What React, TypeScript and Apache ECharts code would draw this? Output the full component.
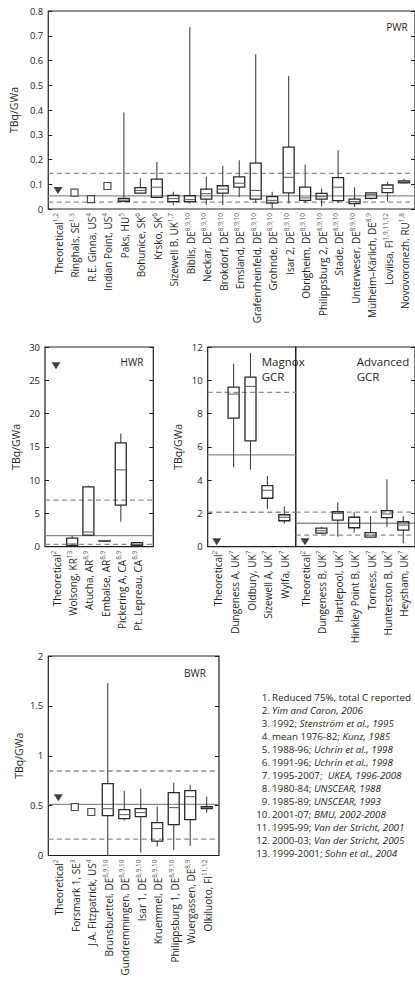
import React, { useEffect, useRef } from 'react';
import * as echarts from 'echarts';

const FONT = '"Open Sans", "Noto Sans", sans-serif';
const INK = '#231f20';
const REF = '#8d8d8d';

// ---------------- PWR ----------------
const pwrSites = ['Theoretical', 'Ringhals, SE', 'R.E. Ginna, US', 'Indian Point, US', 'Paks, HU', 'Bohunice, SK', 'Krsko, SK', 'Sizewell B, UK', 'Biblis, DE', 'Neckar, DE', 'Brokdorf, DE', 'Emsland, DE', 'Grafenrheinfeld, DE', 'Grohnde, DE', 'Isar 2, DE', 'Obrigheim, DE', 'Philippsburg 2, DE', 'Stade, DE', 'Unterweser, DE', 'Mülheim–Kärlich, DE', 'Loviisa, FI', 'Novovoronezh, RU'];
const pwrRefs = ['1,2', '1,3', '4', '4', '5', '6', '6', '1,7', '8,9,10', '8,9,10', '8,9,10', '8,9,10', '8,9,10', '8,9,10', '8,9,10', '8,9,10', '8,9,10', '8,9,10', '8,9,10', '8,9', '1,9,11,12', '1,8'];
const pwrTheoretical = 0.075;
const pwrSingles = [null, 0.066, 0.04, 0.093];
// [min, q1, median, q3, max]
const pwrBoxes: (number[] | null)[] = [
  null, null, null, null,
  [0.028, 0.031, 0.036, 0.043, 0.39],
  [0.062, 0.064, 0.075, 0.086, 0.124],
  [0.043, 0.047, 0.088, 0.121, 0.19],
  [0.015, 0.03, 0.042, 0.055, 0.07],
  [0.022, 0.03, 0.038, 0.054, 0.735],
  [0.017, 0.04, 0.062, 0.08, 0.13],
  [0.015, 0.064, 0.08, 0.094, 0.175],
  [0.048, 0.088, 0.104, 0.13, 0.197],
  [0.025, 0.04, 0.075, 0.185, 0.625],
  [0.002, 0.024, 0.035, 0.05, 0.07],
  [0.022, 0.065, 0.128, 0.25, 0.537],
  [0.023, 0.035, 0.045, 0.088, 0.18],
  [0.01, 0.04, 0.05, 0.063, 0.083],
  [0.025, 0.034, 0.088, 0.127, 0.237],
  [0.008, 0.022, 0.03, 0.04, 0.088],
  [0.038, 0.043, 0.058, 0.065, 0.066],
  [0.03, 0.066, 0.083, 0.097, 0.11],
  [0.104, 0.106, 0.11, 0.114, 0.122],
];
const pwrRefMean = [0.053];
const pwrRefBounds = [0.028, 0.144];

// ---------------- HWR ----------------
const hwrSites = ['Theoretical', 'Wolsong, KR', 'Atucha, AR', 'Embalse, AR', 'Pickering A, CA', 'Pt. Lepreau, CA'];
const hwrRefs = ['2', '13', '8,9', '8,9', '8,9', '8,9'];
const hwrTheoretical = 27.2;
const hwrBoxes: (number[] | null)[] = [
  null,
  [0.1, 0.15, 0.4, 1.3, 1.6],
  [1.7, 1.75, 2.2, 9.0, 9.2],
  [0.88, 0.88, 0.9, 0.92, 0.92],
  [3.75, 6.25, 11.55, 15.6, 17.0],
  [0.1, 0.15, 0.35, 0.6, 0.65],
];
const hwrRefMean = [1.65];
const hwrRefBounds = [0.35, 7.0];

// ---------------- Magnox GCR ----------------
const magSites = ['Theoretical', 'Dungeness A, UK', 'Oldbury, UK', 'Sizewell A, UK', 'Wylfa, UK'];
const magRefs = ['2', '7', '7', '7', '7'];
const magTheoretical = 0.3;
const magBoxes: (number[] | null)[] = [
  null,
  [4.78, 7.73, 9.17, 9.59, 11.0],
  [4.63, 6.36, 9.63, 10.19, 11.64],
  [2.27, 2.91, 3.39, 3.67, 4.25],
  [1.4, 1.56, 1.77, 1.92, 2.42],
];
const magRefMean = [5.52];
const magRefBounds = [2.07, 9.27];

// ---------------- Advanced GCR ----------------
const agrSites = ['Theoretical', 'Dungeness B, UK', 'Hartlepool, UK', 'Hinkley Point B, UK', 'Torness, UK', 'Hunterston B, UK', 'Heysham, UK'];
const agrRefs = ['2', '7', '7', '7', '7', '7', '7'];
const agrTheoretical = 0.3;
const agrBoxes: (number[] | null)[] = [
  null,
  [0.76, 0.82, 0.96, 1.12, 1.2],
  [0.6, 1.6, 2.0, 2.1, 2.67],
  [0.84, 1.14, 1.41, 1.77, 2.07],
  [0.55, 0.57, 0.7, 0.84, 1.85],
  [1.2, 1.75, 1.97, 2.17, 4.05],
  [0.2, 1.0, 1.3, 1.5, 1.85],
];
const agrRefMean = [1.41];
const agrRefBounds = [0.7, 2.08];

// ---------------- BWR ----------------
const bwrSites = ['Theoretical', 'Forsmark 1, SE', 'J.A. Fitzpatrick, US', 'Brunsbuettel, DE', 'Gundremmingen, DE', 'Isar 1, DE', 'Kruemmel, DE', 'Philippsburg 1, DE', 'Wuergassen, DE', 'Olkiluoto, FI'];
const bwrRefs = ['2', '3', '4', '8,9,10', '8,9,10', '8,9,10', '8,9,10', '8,9,10', '8,9', '11,12'];
const bwrTheoretical = 0.58;
const bwrSingles = [null, 0.486, 0.436];
const bwrBoxes: (number[] | null)[] = [
  null, null, null,
  [0.0, 0.4, 0.47, 0.72, 1.73],
  [0.35, 0.37, 0.41, 0.46, 0.65],
  [0.03, 0.39, 0.43, 0.47, 0.67],
  [0.09, 0.145, 0.27, 0.33, 0.49],
  [0.055, 0.31, 0.48, 0.63, 0.73],
  [0.095, 0.36, 0.59, 0.65, 0.71],
  [0.43, 0.47, 0.48, 0.49, 0.59],
];
const bwrRefMean = [0.513];
const bwrRefBounds = [0.165, 0.847];

// ---------------- Footnotes ----------------
const footNums = ['1.', '2.', '3.', '4.', '5.', '6.', '7.', '8.', '9.', '10.', '11.', '12.', '13.'];
const footPlain = ['Reduced 75%, total C reported', '', '1992; ', 'mean 1976-82; ', '1988-96; ', '1991-96; ', '1995-2007;  ', '1980-84; ', '1985-89; ', '2001-07; ', '1995-99; ', '2000-03; ', '1999-2001; '];
const footCite = ['', 'Yim and Caron, 2006', 'Stenström et al., 1995', 'Kunz, 1985', 'Uchrin et al., 1998', 'Uchrin et al., 1998', 'UKEA, 1996-2008', 'UNSCEAR, 1988', 'UNSCEAR, 1993', 'BMU, 2002-2008', 'Van der Stricht, 2001', 'Van der Stricht, 2005', 'Sohn et al., 2004'];

function buildOption() {
  const grids: any[] = [];
  const xAxes: any[] = [];
  const yAxes: any[] = [];
  const series: any[] = [];

  const tickStyle = { color: INK, width: 1 };

  function refSeries(xi: number, yi: number, vals: number[], dashed: boolean) {
    return {
      type: 'custom',
      xAxisIndex: xi,
      yAxisIndex: yi,
      silent: true,
      z: 1,
      data: vals.map((v) => [0, v]),
      encode: { x: 0, y: 1 },
      renderItem: (params: any, api: any) => {
        const cs = params.coordSys;
        const yy = api.coord([0, api.value(1)])[1];
        return {
          type: 'line',
          shape: { x1: cs.x, y1: yy, x2: cs.x + cs.width, y2: yy },
          style: { stroke: REF, lineWidth: 1.3, lineDash: dashed ? [5, 3.5] : null },
        };
      },
    };
  }

  function addFrame(f: any) {
    const gi = grids.length;
    grids.push({
      left: f.x, top: f.y, width: f.w, height: f.h,
      show: true, borderColor: INK, borderWidth: 1.2, backgroundColor: 'rgba(0,0,0,0)',
    });
    const xi = xAxes.length;
    xAxes.push({ gridIndex: gi, type: 'value', min: 0, max: 1, show: false });
    const yi = yAxes.length;
    yAxes.push({
      gridIndex: gi, type: 'value', position: 'left',
      min: f.min, max: f.max, interval: f.interval,
      axisLine: { show: false },
      axisTick: { show: f.left, inside: true, length: 4, lineStyle: tickStyle },
      axisLabel: { show: f.left, color: INK, fontSize: 9.5, fontFamily: FONT, margin: 5 },
      splitLine: { show: false },
      name: f.left ? 'TBq/GWa' : '',
      nameLocation: 'middle',
      nameGap: 24,
      nameTextStyle: { color: INK, fontSize: 10.5, fontFamily: FONT },
    });
    if (f.right) {
      yAxes.push({
        gridIndex: gi, type: 'value', position: 'right',
        min: f.min, max: f.max, interval: f.interval,
        axisLine: { show: false },
        axisTick: { show: true, inside: true, length: 4, lineStyle: tickStyle },
        axisLabel: { show: false },
        splitLine: { show: false },
      });
    }
    series.push(refSeries(xi, yi, f.mean, false));
    series.push(refSeries(xi, yi, f.bounds, true));
  }

  function addData(d: any) {
    const gi = grids.length;
    grids.push({ left: d.x, top: d.y, width: d.w, height: d.h, show: false });
    const xi = xAxes.length;
    xAxes.push({
      gridIndex: gi, type: 'category', data: d.sites, boundaryGap: false,
      axisLine: { show: false }, axisTick: { show: false }, splitLine: { show: false },
      axisLabel: {
        interval: 0, rotate: 90, margin: 4,
        formatter: (v: string, i: number) => `{n|${v}}{s|${d.refs[i]}}`,
        rich: {
          n: { fontSize: 10, fontFamily: FONT, color: INK, lineHeight: 12, verticalAlign: 'bottom' },
          s: { fontSize: 6.5, fontFamily: FONT, color: '#555', lineHeight: 12, verticalAlign: 'top' },
        },
      },
    });
    const yi = yAxes.length;
    yAxes.push({ gridIndex: gi, type: 'value', min: d.min, max: d.max, show: false });

    const boxData = d.boxes.map((b: number[] | null, i: number) => (b ? [i, ...b] : null)).filter((x: any) => x);
    series.push({
      type: 'custom',
      xAxisIndex: xi, yAxisIndex: yi, z: 3, silent: true,
      data: boxData,
      encode: { x: 0, y: [1, 2, 3, 4, 5] },
      renderItem: (params: any, api: any) => {
        const i = api.value(0);
        const x = api.coord([i, 0])[0];
        const yv = (k: number) => api.coord([i, api.value(k)])[1];
        const yMin = yv(1), yQ1 = yv(2), yMed = yv(3), yQ3 = yv(4), yMax = yv(5);
        const hw = 5.5;
        const wStyle = { stroke: '#444', lineWidth: 1.1 };
        return {
          type: 'group',
          children: [
            { type: 'line', shape: { x1: x, y1: yQ3, x2: x, y2: yMax }, style: wStyle },
            { type: 'line', shape: { x1: x, y1: yQ1, x2: x, y2: yMin }, style: wStyle },
            { type: 'rect', shape: { x: x - hw, y: yQ3, width: 2 * hw, height: Math.max(yQ1 - yQ3, 0.6) }, style: { fill: 'rgba(255,255,255,0)', stroke: '#2a2a2a', lineWidth: 1.3 } },
            { type: 'line', shape: { x1: x - hw, y1: yMed, x2: x + hw, y2: yMed }, style: { stroke: '#666', lineWidth: 1.1 } },
          ],
        };
      },
    });
    if (d.singles) {
      series.push({
        type: 'scatter', xAxisIndex: xi, yAxisIndex: yi, z: 4, silent: true,
        symbol: 'rect', symbolSize: 7,
        itemStyle: { color: '#fff', borderColor: '#222', borderWidth: 1.2 },
        data: d.singles.map((v: number | null, i: number) => (v == null ? null : [i, v])).filter((x: any) => x),
      });
    }
    series.push({
      type: 'scatter', xAxisIndex: xi, yAxisIndex: yi, z: 4, silent: true,
      symbol: 'triangle', symbolRotate: 180, symbolSize: [9, 7],
      itemStyle: { color: '#111' },
      data: [[0, d.theoretical]],
    });
  }

  // PWR
  addFrame({ x: 48, y: 11, w: 368, h: 198, min: 0, max: 0.8, interval: 0.1, left: true, right: true, mean: pwrRefMean, bounds: pwrRefBounds });
  addData({ x: 58, y: 11, w: 346, h: 198, min: 0, max: 0.8, sites: pwrSites, refs: pwrRefs, boxes: pwrBoxes, singles: pwrSingles, theoretical: pwrTheoretical });

  // HWR
  addFrame({ x: 45, y: 347, w: 108.3, h: 199.7, min: 0, max: 30, interval: 5, left: true, right: true, mean: hwrRefMean, bounds: hwrRefBounds });
  addData({ x: 56, y: 347, w: 81, h: 199.7, min: 0, max: 30, sites: hwrSites, refs: hwrRefs, boxes: hwrBoxes, theoretical: hwrTheoretical });

  // Magnox GCR
  addFrame({ x: 207.7, y: 347, w: 88, h: 199.7, min: 0, max: 12, interval: 2, left: true, right: false, mean: magRefMean, bounds: magRefBounds });
  addData({ x: 216.7, y: 347, w: 67.6, h: 199.7, min: 0, max: 12, sites: magSites, refs: magRefs, boxes: magBoxes, theoretical: magTheoretical });

  // Advanced GCR
  addFrame({ x: 295.7, y: 347, w: 120.3, h: 199.7, min: 0, max: 12, interval: 2, left: false, right: true, mean: agrRefMean, bounds: agrRefBounds });
  addData({ x: 305, y: 347, w: 98.3, h: 199.7, min: 0, max: 12, sites: agrSites, refs: agrRefs, boxes: agrBoxes, theoretical: agrTheoretical });

  // BWR
  addFrame({ x: 48.3, y: 656, w: 170.7, h: 199.5, min: 0, max: 2, interval: 0.5, left: true, right: true, mean: bwrRefMean, bounds: bwrRefBounds });
  addData({ x: 58.3, y: 656, w: 148.4, h: 199.5, min: 0, max: 2, sites: bwrSites, refs: bwrRefs, boxes: bwrBoxes, singles: bwrSingles, theoretical: bwrTheoretical });

  const panelText = (text: string, x: number, y: number, align: string, size: number) => ({
    type: 'text', x, y, silent: true, z: 10,
    style: { text, fill: INK, fontSize: size, fontFamily: FONT, align, verticalAlign: 'middle', lineHeight: 14.5 },
  });

  const graphics: any[] = [
    panelText('PWR', 397, 27, 'center', 10),
    panelText('HWR', 132, 362, 'center', 10),
    panelText('BWR', 195, 673, 'center', 10),
    { type: 'text', x: 261.7, y: 354, silent: true, z: 10, style: { text: 'Magnox\nGCR', fill: INK, fontSize: 11.5, fontFamily: FONT, align: 'left', verticalAlign: 'top', lineHeight: 14.7 } },
    { type: 'text', x: 356.7, y: 354, silent: true, z: 10, style: { text: 'Advanced\nGCR', fill: INK, fontSize: 11.5, fontFamily: FONT, align: 'left', verticalAlign: 'top', lineHeight: 14.7 } },
  ];

  const FOOT_TOP = 697;
  const FOOT_STEP = 13;
  footNums.forEach((n, i) => {
    const y = FOOT_TOP + i * FOOT_STEP;
    graphics.push({
      type: 'text', x: 270, y, silent: true, z: 10,
      style: { text: n, fill: INK, fontSize: 9.8, fontFamily: FONT, align: 'right', verticalAlign: 'middle' },
    });
    let t = '';
    if (footPlain[i]) t += `{p|${footPlain[i]}}`;
    if (footCite[i]) t += `{i|${footCite[i]}}`;
    graphics.push({
      type: 'text', x: 272, y, silent: true, z: 10,
      style: {
        text: t, fill: INK, fontSize: 9.8, fontFamily: FONT, align: 'left', verticalAlign: 'middle',
        rich: {
          p: { fontSize: 9.8, fontFamily: FONT, fill: INK },
          i: { fontSize: 9.8, fontFamily: FONT, fontStyle: 'italic', fill: INK },
        },
      },
    });
  });

  return {
    animation: false,
    backgroundColor: '#ffffff',
    grid: grids,
    xAxis: xAxes,
    yAxis: yAxes,
    series,
    graphic: graphics,
  };
}

export default function App() {
  const ref = useRef<HTMLDivElement>(null);
  useEffect(() => {
    if (!ref.current) return;
    const chart = echarts.init(ref.current, null, { renderer: 'svg' });
    chart.setOption(buildOption() as any);
    return () => chart.dispose();
  }, []);
  return <div ref={ref} style={{ position: 'absolute', left: 0, top: 0, width: 415, height: 989 }} />;
}
